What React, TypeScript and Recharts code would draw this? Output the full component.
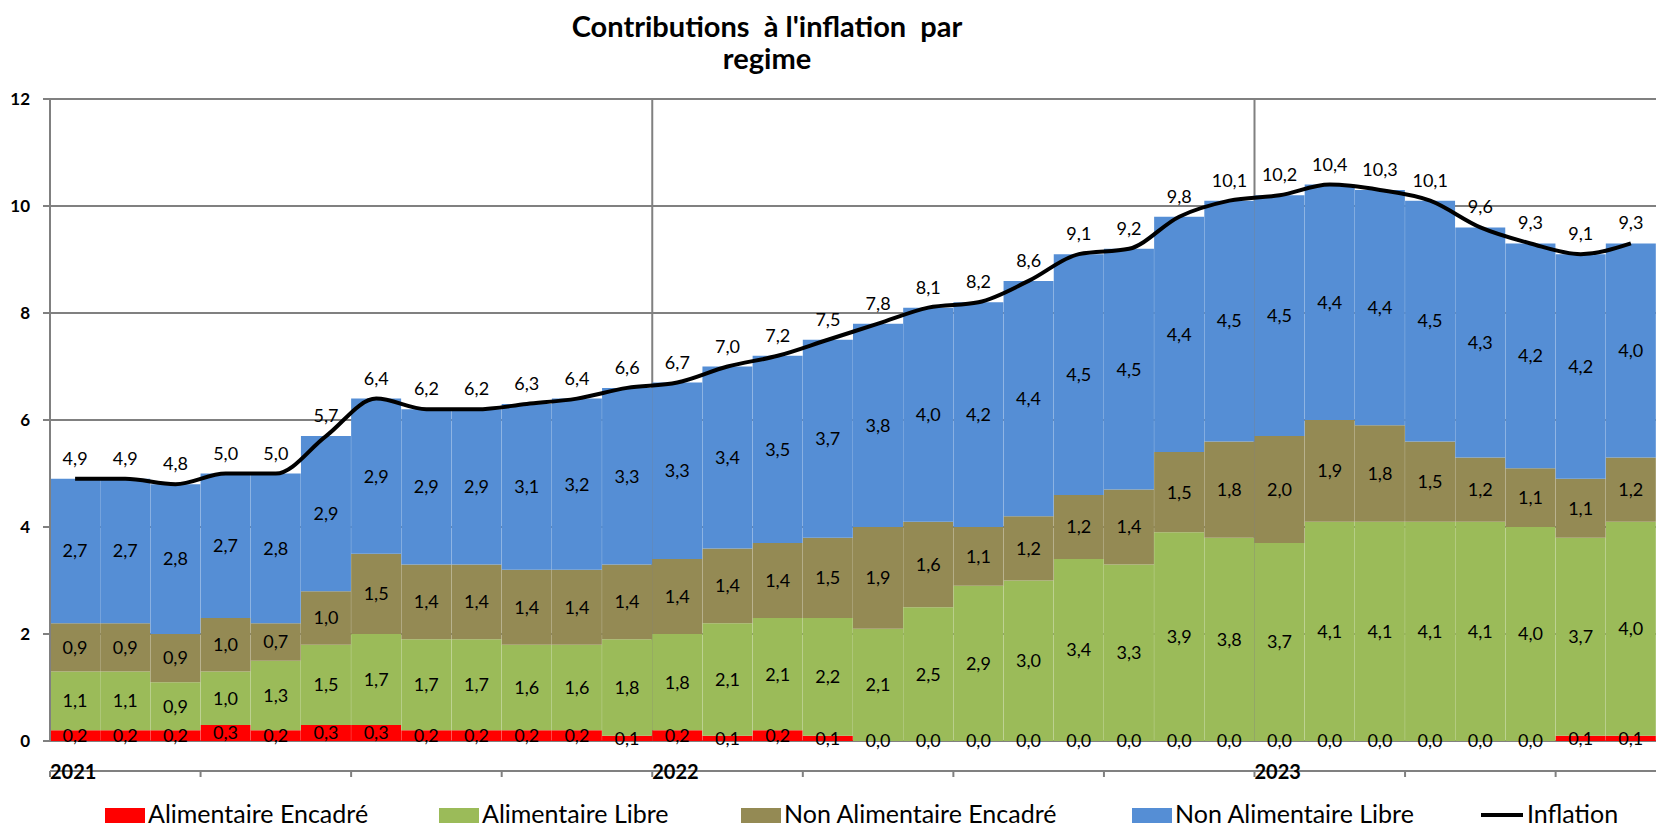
import React from 'react'
import {
  ComposedChart,
  Bar,
  Line,
  XAxis,
  YAxis,
  CartesianGrid,
  ReferenceLine,
  LabelList,
} from 'recharts'

const MONTHS = [
  'janv.-21', 'févr.-21', 'mars-21', 'avr.-21', 'mai-21', 'juin-21',
  'juil.-21', 'août-21', 'sept.-21', 'oct.-21', 'nov.-21', 'déc.-21',
  'janv.-22', 'févr.-22', 'mars-22', 'avr.-22', 'mai-22', 'juin-22',
  'juil.-22', 'août-22', 'sept.-22', 'oct.-22', 'nov.-22', 'déc.-22',
  'janv.-23', 'févr.-23', 'mars-23', 'avr.-23', 'mai-23', 'juin-23',
  'juil.-23', 'août-23',
]

const YEARS = ['2021', '2022', '2023']

const ALIM_ENCADRE = [
  0.2, 0.2, 0.2, 0.3, 0.2, 0.3, 0.3, 0.2, 0.2, 0.2, 0.2, 0.1,
  0.2, 0.1, 0.2, 0.1, 0.0, 0.0, 0.0, 0.0, 0.0, 0.0, 0.0, 0.0,
  0.0, 0.0, 0.0, 0.0, 0.0, 0.0, 0.1, 0.1,
]

const ALIM_LIBRE = [
  1.1, 1.1, 0.9, 1.0, 1.3, 1.5, 1.7, 1.7, 1.7, 1.6, 1.6, 1.8,
  1.8, 2.1, 2.1, 2.2, 2.1, 2.5, 2.9, 3.0, 3.4, 3.3, 3.9, 3.8,
  3.7, 4.1, 4.1, 4.1, 4.1, 4.0, 3.7, 4.0,
]

const NON_ALIM_ENCADRE = [
  0.9, 0.9, 0.9, 1.0, 0.7, 1.0, 1.5, 1.4, 1.4, 1.4, 1.4, 1.4,
  1.4, 1.4, 1.4, 1.5, 1.9, 1.6, 1.1, 1.2, 1.2, 1.4, 1.5, 1.8,
  2.0, 1.9, 1.8, 1.5, 1.2, 1.1, 1.1, 1.2,
]

const NON_ALIM_LIBRE = [
  2.7, 2.7, 2.8, 2.7, 2.8, 2.9, 2.9, 2.9, 2.9, 3.1, 3.2, 3.3,
  3.3, 3.4, 3.5, 3.7, 3.8, 4.0, 4.2, 4.4, 4.5, 4.5, 4.4, 4.5,
  4.5, 4.4, 4.4, 4.5, 4.3, 4.2, 4.2, 4.0,
]

const INFLATION = [
  4.9, 4.9, 4.8, 5.0, 5.0, 5.7, 6.4, 6.2, 6.2, 6.3, 6.4, 6.6,
  6.7, 7.0, 7.2, 7.5, 7.8, 8.1, 8.2, 8.6, 9.1, 9.2, 9.8, 10.1,
  10.2, 10.4, 10.3, 10.1, 9.6, 9.3, 9.1, 9.3,
]

const Y_TICKS = [0, 2, 4, 6, 8, 10, 12]

const COLORS = {
  alimEncadre: '#FF0000',
  alimLibre: '#9BBB59',
  nonAlimEncadre: '#948A54',
  nonAlimLibre: '#558ED5',
  inflation: '#000000',
}

const data = MONTHS.map((month, i) => ({
  month,
  pos: i + 0.5,
  alimEncadre: ALIM_ENCADRE[i],
  alimLibre: ALIM_LIBRE[i],
  nonAlimEncadre: NON_ALIM_ENCADRE[i],
  nonAlimLibre: NON_ALIM_LIBRE[i],
  inflation: INFLATION[i],
}))

// first month of each year, and quarter boundaries for the tick marks
const YEAR_STARTS = MONTHS.map((m, i) => (m.startsWith('janv') ? i : -1)).filter((i) => i >= 0)
const QUARTER_TICKS = MONTHS.map((_, i) => i).filter((i) => i % 3 === 0)

const FONT = 'Lato, "Open Sans", sans-serif'
const GRID = '#808080'

const fmt = (v: any) => Number(v).toFixed(1).replace('.', ',')

const labelStyle = { fontFamily: FONT, fontSize: 18, fill: '#000' }

const YearTick = ({ x, y, payload }: any) => {
  const i = YEAR_STARTS.indexOf(payload.value)
  if (i < 0) return <g />
  return (
    <text
      x={x}
      y={y}
      textAnchor="start"
      fontFamily={FONT}
      fontSize={20}
      fontWeight={700}
      fill="#000"
    >
      {YEARS[i]}
    </text>
  )
}

const LEGEND = [
  { name: 'Alimentaire Encadré', color: COLORS.alimEncadre, x: 105, type: 'rect' },
  { name: 'Alimentaire Libre', color: COLORS.alimLibre, x: 439, type: 'rect' },
  { name: 'Non Alimentaire Encadré', color: COLORS.nonAlimEncadre, x: 741, type: 'rect' },
  { name: 'Non Alimentaire Libre', color: COLORS.nonAlimLibre, x: 1132, type: 'rect' },
  { name: 'Inflation', color: COLORS.inflation, x: 1481, type: 'line' },
]

export default function App() {
  return (
    <div
      style={{
        position: 'absolute',
        left: 0,
        top: 0,
        width: 1664,
        height: 837,
        background: '#fff',
      }}
    >
      <ComposedChart
        width={1664}
        height={837}
        data={data}
        margin={{ top: 99, right: 8, bottom: 56, left: 0 }}
        barCategoryGap={0}
        barGap={0}
      >
        <CartesianGrid
          vertical={false}
          stroke={GRID}
          strokeWidth={2}
          xAxisId="q"
        />
        <XAxis xAxisId="cat" dataKey="month" hide />
        <XAxis
          xAxisId="q"
          dataKey="pos"
          type="number"
          domain={[0, MONTHS.length]}
          allowDataOverflow
          ticks={QUARTER_TICKS}
          interval={0}
          height={40}
          axisLine={{ stroke: GRID, strokeWidth: 2 }}
          tickLine={{ stroke: GRID, strokeWidth: 2 }}
          tickSize={6}
          tick={<YearTick />}
        />
        <YAxis
          domain={[0, 12]}
          ticks={Y_TICKS}
          interval={0}
          width={50}
          axisLine={{ stroke: GRID, strokeWidth: 2 }}
          tickLine={{ stroke: GRID, strokeWidth: 2 }}
          tickSize={7}
          tickMargin={13}
          tick={{ fontFamily: FONT, fontSize: 17, fontWeight: 700, fill: '#000' }}
        />
        {YEAR_STARTS.filter((i) => i > 0).map((i) => (
          <ReferenceLine
            key={i}
            xAxisId="q"
            x={i}
            stroke={GRID}
            strokeWidth={2}
            zIndex={-50}
          />
        ))}
        <Bar
          xAxisId="cat"
          dataKey="alimEncadre"
          stackId="a"
          fill={COLORS.alimEncadre}
          minPointSize={0.01}
          isAnimationActive={false}
        >
          <LabelList dataKey="alimEncadre" position="center" formatter={fmt} style={labelStyle} />
        </Bar>
        <Bar xAxisId="cat" dataKey="alimLibre" stackId="a" fill={COLORS.alimLibre} isAnimationActive={false}>
          <LabelList dataKey="alimLibre" position="center" formatter={fmt} style={labelStyle} />
        </Bar>
        <Bar xAxisId="cat" dataKey="nonAlimEncadre" stackId="a" fill={COLORS.nonAlimEncadre} isAnimationActive={false}>
          <LabelList dataKey="nonAlimEncadre" position="center" formatter={fmt} style={labelStyle} />
        </Bar>
        <Bar xAxisId="cat" dataKey="nonAlimLibre" stackId="a" fill={COLORS.nonAlimLibre} isAnimationActive={false}>
          <LabelList dataKey="nonAlimLibre" position="center" formatter={fmt} style={labelStyle} />
        </Bar>
        <Line
          xAxisId="cat"
          type="monotone"
          dataKey="inflation"
          stroke={COLORS.inflation}
          strokeWidth={4}
          dot={false}
          isAnimationActive={false}
        >
          <LabelList dataKey="inflation" position="top" offset={14} formatter={fmt} style={labelStyle} />
        </Line>
      </ComposedChart>

      <svg
        width={1664}
        height={837}
        style={{ position: 'absolute', left: 0, top: 0, pointerEvents: 'none' }}
      >
        <text
          x={767}
          y={37}
          textAnchor="middle"
          fontFamily={FONT}
          fontSize={29}
          fontWeight={700}
          fill="#000"
          style={{ whiteSpace: 'pre' }}
        >
          {'Contributions  à l\'inflation  par'}
        </text>
        <text
          x={767}
          y={69}
          textAnchor="middle"
          fontFamily={FONT}
          fontSize={29}
          fontWeight={700}
          fill="#000"
        >
          regime
        </text>
        {LEGEND.map((item) => (
          <g key={item.name}>
            {item.type === 'rect' ? (
              <rect x={item.x} y={808} width={40} height={15} fill={item.color} />
            ) : (
              <line x1={item.x} x2={item.x + 42} y1={815} y2={815} stroke={item.color} strokeWidth={4} />
            )}
            <text
              x={item.x + (item.type === 'rect' ? 43 : 46)}
              y={823}
              fontFamily={FONT}
              fontSize={25}
              fill="#000"
            >
              {item.name}
            </text>
          </g>
        ))}
      </svg>
    </div>
  )
}
